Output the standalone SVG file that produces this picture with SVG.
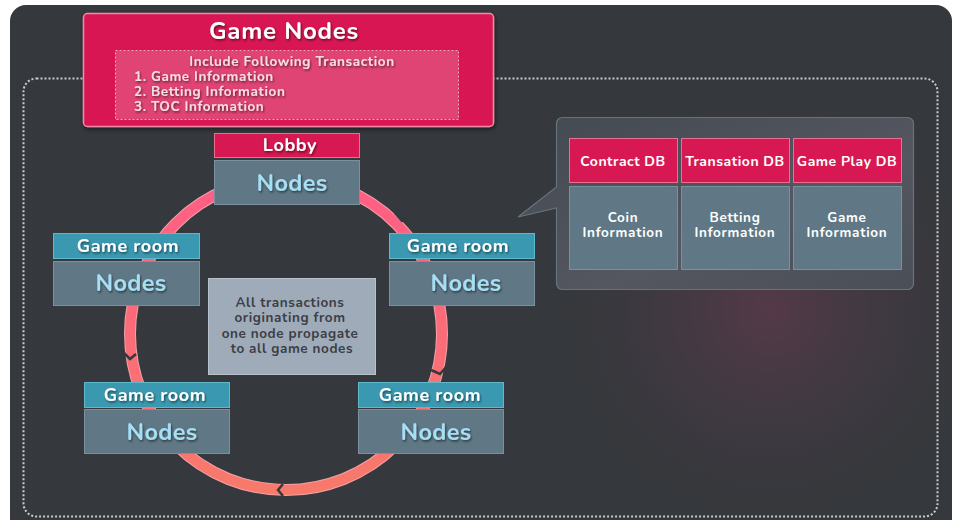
<svg xmlns="http://www.w3.org/2000/svg" width="953" height="520" viewBox="0 0 953 520">
<defs>
<style>
.t{font-family:"Nunito","Lato","Noto Sans",sans-serif;font-weight:700;text-anchor:middle}
.w{fill:#ffffff}
.crim{fill:#d81852;stroke:#e8708e;stroke-width:1}
.teal{fill:#3a99b0;stroke:#5fb8cc;stroke-width:1}
.body{fill:#607885;stroke:#7a909c;stroke-width:1}
.nodes{font-size:23.5px;fill:#a6def4;letter-spacing:0.3px}
.hdr{font-size:18px;letter-spacing:0.6px}
.db{font-size:14px;letter-spacing:0.5px}
.sm{font-size:13.5px;letter-spacing:0.6px}
.info{font-size:13.5px;letter-spacing:0.7px}
.notch{fill:none;stroke:#35383c;stroke-width:2.5}
</style>
<filter id="sh" x="-10%" y="-20%" width="120%" height="160%">
<feDropShadow dx="1" dy="1.5" stdDeviation="0.8" flood-color="#000" flood-opacity="0.55"/>
</filter>
<filter id="bsh" x="-5%" y="-5%" width="110%" height="115%">
<feDropShadow dx="1" dy="2" stdDeviation="2" flood-color="#000" flood-opacity="0.5"/>
</filter>
<radialGradient id="glow" cx="770" cy="310" r="240" gradientUnits="userSpaceOnUse">
<stop offset="0" stop-color="#633a4e" stop-opacity="0.7"/>
<stop offset="0.5" stop-color="#4c3a46" stop-opacity="0.4"/>
<stop offset="1" stop-color="#35383c" stop-opacity="0"/>
</radialGradient>
<linearGradient id="ring" x1="0" y1="170" x2="0" y2="495" gradientUnits="userSpaceOnUse">
<stop offset="0" stop-color="#ff5d86"/>
<stop offset="1" stop-color="#f77a6a"/>
</linearGradient>
<linearGradient id="panel" x1="0" y1="0" x2="1" y2="1">
<stop offset="0" stop-color="#434a51"/>
<stop offset="0.6" stop-color="#545660"/>
<stop offset="1" stop-color="#4a4f57"/>
</linearGradient>
</defs>

<rect x="0" y="0" width="953" height="520" fill="#ffffff"/>
<rect x="10" y="5" width="942" height="530" rx="16" fill="#35383c"/>
<rect x="10" y="5" width="942" height="530" rx="16" fill="url(#glow)"/>
<rect x="23.5" y="78.5" width="914" height="438" rx="13" fill="none" stroke="#c9cbcd" stroke-width="2" stroke-dasharray="2 2"/>

<g id="connectors">
<circle cx="286" cy="334" r="156" fill="none" stroke="#f5a0a8" stroke-width="12"/>
<circle cx="286" cy="334" r="156" fill="none" stroke="url(#ring)" stroke-width="10"/>
<polyline class="notch" points="395,213 402,221 412,219"/>
<polyline class="notch" points="431,370 440,374 447,366"/>
<polyline class="notch" points="283,484 278,490 283,496"/>
<polyline class="notch" points="124,353 130,359 136,354"/>
</g>

<g id="game-nodes" filter="url(#bsh)">
<rect x="83.5" y="13.5" width="410" height="113" rx="4" fill="#d81852" stroke="#f08aa6" stroke-width="1.5"/>
</g>
<g id="game-nodes-content">
<rect x="115.5" y="50.5" width="343" height="69" fill="#e04474" stroke="#f3a5bd" stroke-width="1" stroke-dasharray="2 2"/>
<text class="t w" x="284" y="39" font-size="24" letter-spacing="0.8" filter="url(#sh)">Game Nodes</text>
<text class="t sm" fill="#f6dde5" filter="url(#sh)"><tspan x="292" y="66">Include Following Transaction</tspan><tspan x="134" y="81" text-anchor="start">1. Game Information</tspan><tspan x="134" y="96" text-anchor="start">2. Betting Information</tspan><tspan x="134" y="111" text-anchor="start">3. TOC Information</tspan></text>
</g>

<g id="lobby">
<rect class="crim" x="214.5" y="133.5" width="145" height="24"/>
<text class="t w hdr" x="290" y="151" filter="url(#sh)">Lobby</text>
<rect class="body" x="214.5" y="160.5" width="145" height="44"/>
<text class="t nodes" x="292" y="191" filter="url(#sh)">Nodes</text>
</g>

<g id="room-left-upper">
<rect class="teal" x="53.5" y="233.5" width="146" height="25"/>
<text class="t w hdr" x="128" y="252" filter="url(#sh)">Game room</text>
<rect class="body" x="53.5" y="261.5" width="146" height="44"/>
<text class="t nodes" x="131" y="291" filter="url(#sh)">Nodes</text>
</g>

<g id="room-right-upper">
<rect class="teal" x="389.5" y="233.5" width="145" height="25"/>
<text class="t w hdr" x="458" y="252" filter="url(#sh)">Game room</text>
<rect class="body" x="389.5" y="261.5" width="145" height="44"/>
<text class="t nodes" x="466" y="291" filter="url(#sh)">Nodes</text>
</g>

<g id="room-left-lower">
<rect class="teal" x="84.5" y="382.5" width="145" height="25"/>
<text class="t w hdr" x="155" y="401" filter="url(#sh)">Game room</text>
<rect class="body" x="84.5" y="409.5" width="145" height="44"/>
<text class="t nodes" x="162" y="440" filter="url(#sh)">Nodes</text>
</g>

<g id="room-right-lower">
<rect class="teal" x="358.5" y="382.5" width="145" height="25"/>
<text class="t w hdr" x="430" y="401" filter="url(#sh)">Game room</text>
<rect class="body" x="358.5" y="409.5" width="145" height="44"/>
<text class="t nodes" x="436" y="440" filter="url(#sh)">Nodes</text>
</g>

<g id="note">
<rect x="208.5" y="278.5" width="167" height="96" fill="#a0abb9" stroke="#b8c2cd" stroke-width="1"/>
<text class="t sm" fill="#3b3e45"><tspan x="290" y="307">All transactions</tspan><tspan x="290" y="322">originating from</tspan><tspan x="290" y="338">one node propagate</tspan><tspan x="292" y="353">to all game nodes</tspan></text>
</g>

<g id="db-callout">
<path d="M562.5,117.5 H907.5 A6,6 0 0 1 913.5,123.5 V283.5 A6,6 0 0 1 907.5,289.5 H562.5 A6,6 0 0 1 556.5,283.5 V208 L518,217 L556.5,187 V123.5 A6,6 0 0 1 562.5,117.5 Z" fill="url(#panel)" stroke="#66737c" stroke-width="1.2"/>
<rect class="crim" x="569.5" y="138.5" width="108" height="44" stroke="#a8546e"/>
<rect class="crim" x="681.5" y="138.5" width="108" height="44" stroke="#a8546e"/>
<rect class="crim" x="793.5" y="138.5" width="108" height="44" stroke="#a8546e"/>
<text class="t w db" x="623" y="166">Contract DB</text>
<text class="t w db" x="735" y="166">Transation DB</text>
<text class="t w db" x="847" y="166">Game Play DB</text>
<rect class="body" x="569.5" y="186.5" width="108" height="83"/>
<rect class="body" x="681.5" y="186.5" width="108" height="83"/>
<rect class="body" x="793.5" y="186.5" width="108" height="83"/>
<text class="t w info"><tspan x="623" y="222">Coin</tspan><tspan x="623" y="237">Information</tspan></text>
<text class="t w info"><tspan x="735" y="222">Betting</tspan><tspan x="735" y="237">Information</tspan></text>
<text class="t w info"><tspan x="847" y="222">Game</tspan><tspan x="847" y="237">Information</tspan></text>
</g>
</svg>
